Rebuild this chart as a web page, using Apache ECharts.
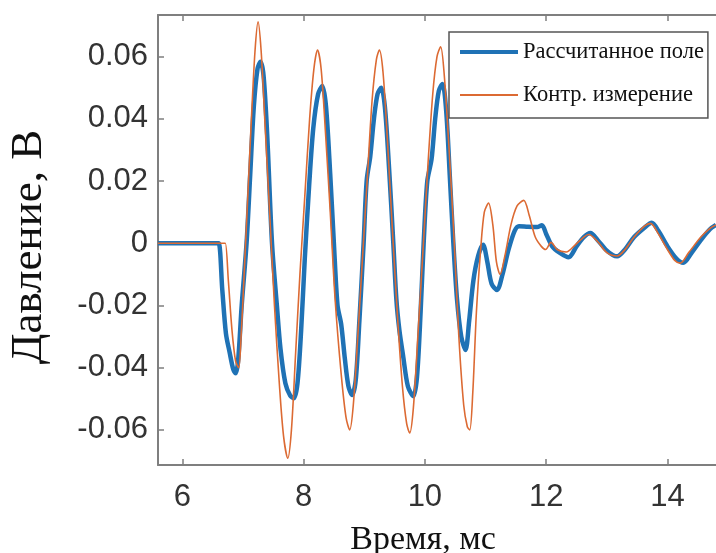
<!DOCTYPE html>
<html>
<head>
<meta charset="utf-8">
<script src="https://cdn.jsdelivr.net/npm/echarts@6/dist/echarts.min.js"></script>
<style>
  html, body { margin: 0; padding: 0; background: #fff; }
  #chart { width: 716px; height: 553px; }
</style>
</head>
<body>
<div id="chart"></div>
<script>
// values: time (ms), pressure (V)
const xTicks = [6, 8, 10, 12, 14];
const yTicks = [-0.06, -0.04, -0.02, 0, 0.02, 0.04, 0.06];

const calcT = [5.6, 6.55, 6.60, 6.66, 6.72, 6.78, 6.84, 6.88, 6.92, 6.98, 7.06, 7.12, 7.18, 7.24, 7.29, 7.34, 7.40, 7.48, 7.56, 7.62, 7.70, 7.78, 7.84, 7.90, 7.96, 8.02, 8.09, 8.16, 8.24, 8.31, 8.37, 8.44, 8.50, 8.56, 8.62, 8.68, 8.74, 8.80, 8.86, 8.92, 8.99, 9.04, 9.10, 9.16, 9.22, 9.28, 9.34, 9.41, 9.48, 9.53, 9.58, 9.64, 9.72, 9.81, 9.87, 9.93, 9.98, 10.04, 10.11, 10.17, 10.23, 10.29, 10.35, 10.41, 10.47, 10.53, 10.60, 10.67, 10.73, 10.80, 10.88, 10.96, 11.03, 11.10, 11.19, 11.28, 11.38, 11.48, 11.55, 11.70, 11.85, 11.93, 12.00, 12.10, 12.22, 12.37, 12.50, 12.62, 12.73, 12.85, 12.98, 13.10, 13.17, 13.30, 13.45, 13.62, 13.74, 13.85, 14.00, 14.15, 14.26, 14.40, 14.55, 14.70, 14.80];
const calcV = [0, 0, 0, -0.015, -0.029, -0.035, -0.0405, -0.0418, -0.038, -0.020, 0, 0.022, 0.044, 0.056, 0.0584, 0.054, 0.035, 0, -0.020, -0.034, -0.045, -0.049, -0.0498, -0.045, -0.028, -0.005, 0.018, 0.037, 0.048, 0.0506, 0.044, 0.022, 0, -0.020, -0.026, -0.037, -0.046, -0.0488, -0.044, -0.025, 0, 0.020, 0.028, 0.040, 0.048, 0.0500, 0.044, 0.024, 0, -0.018, -0.028, -0.036, -0.046, -0.0492, -0.043, -0.022, 0, 0.020, 0.027, 0.040, 0.049, 0.0512, 0.043, 0.022, 0, -0.018, -0.030, -0.0343, -0.025, -0.012, -0.004, -0.0005, -0.006, -0.013, -0.015, -0.010, -0.002, 0.004, 0.0055, 0.0053, 0.0052, 0.0058, 0.003, -0.001, -0.003, -0.0045, -0.001, 0.002, 0.0033, 0.001, -0.002, -0.0038, -0.0042, -0.002, 0.002, 0.005, 0.0066, 0.004, -0.001, -0.005, -0.0063, -0.003, 0.001, 0.0045, 0.0059];

const measT = [5.6, 6.68, 6.71, 6.76, 6.82, 6.88, 6.93, 6.97, 7.02, 7.08, 7.14, 7.20, 7.25, 7.30, 7.36, 7.44, 7.52, 7.60, 7.67, 7.74, 7.80, 7.87, 7.94, 8.02, 8.10, 8.17, 8.23, 8.29, 8.36, 8.44, 8.52, 8.62, 8.70, 8.76, 8.82, 8.90, 8.98, 9.06, 9.13, 9.20, 9.25, 9.31, 9.38, 9.46, 9.55, 9.63, 9.70, 9.75, 9.81, 9.89, 9.97, 10.05, 10.13, 10.20, 10.26, 10.32, 10.40, 10.48, 10.56, 10.64, 10.70, 10.74, 10.79, 10.85, 10.92, 10.98, 11.05, 11.12, 11.18, 11.24, 11.32, 11.42, 11.52, 11.63, 11.72, 11.82, 11.92, 11.99, 12.08, 12.18, 12.33, 12.48, 12.62, 12.70, 12.85, 13.00, 13.17, 13.30, 13.45, 13.62, 13.72, 13.85, 14.00, 14.12, 14.21, 14.35, 14.55, 14.70, 14.80];
const measV = [0, 0, 0, -0.012, -0.028, -0.038, -0.040, -0.030, -0.010, 0.015, 0.040, 0.062, 0.0712, 0.062, 0.040, 0.010, -0.020, -0.045, -0.062, -0.0691, -0.060, -0.035, -0.010, 0.015, 0.040, 0.056, 0.0621, 0.056, 0.036, 0.010, -0.018, -0.042, -0.056, -0.060, -0.052, -0.028, -0.002, 0.024, 0.046, 0.059, 0.0621, 0.055, 0.034, 0.006, -0.024, -0.046, -0.058, -0.061, -0.053, -0.028, -0.002, 0.025, 0.048, 0.060, 0.0632, 0.054, 0.030, 0.002, -0.030, -0.052, -0.059, -0.060, -0.048, -0.022, -0.002, 0.010, 0.0129, 0.006, -0.006, -0.010, -0.004, 0.006, 0.012, 0.0138, 0.009, 0.002, -0.001, -0.002, 0.0003, -0.002, -0.0028, -0.0005, 0.002, 0.0028, 0.0005, -0.003, -0.0041, -0.002, 0.002, 0.0055, 0.0064, 0.003, -0.002, -0.0055, -0.0064, -0.003, 0.002, 0.0048, 0.0059];

const names = ["Рассчитанное поле", "Контр. измерение"];
const colors = ["#1f72b5", "#dc6a33"];

const chart = echarts.init(document.getElementById("chart"));

const axisGray = "#7f7f7f";
const labelFont = { color: "#333", fontFamily: "Liberation Sans, Arial", fontSize: 31 };

const option = {
  animation: false,
  grid: { left: 158, top: 15, right: 0, bottom: 88 },
  legend: {
    orient: "vertical",
    left: 449,
    top: 32,
    padding: [8, 4, 11, 11],
    itemGap: 19,
    itemWidth: 58,
    itemHeight: 4,
    backgroundColor: "#fff",
    borderColor: "#555",
    borderWidth: 1.5,
    textStyle: { color: "#111", fontFamily: "Liberation Serif, Times New Roman", fontSize: 22.5, lineHeight: 24 },
    data: [
      { name: names[0], icon: "path://M0,0H58V4H0Z" },
      { name: names[1], icon: "path://M0,1H58V3H0Z" },
    ],
  },
  xAxis: [
    {
      type: "value",
      min: 5.6,
      max: 14.8,
      axisLine: { show: true, onZero: false, lineStyle: { color: axisGray, width: 2 } },
      axisTick: { show: true, inside: true, length: 6, customValues: xTicks, lineStyle: { color: axisGray, width: 1.5 } },
      axisLabel: { customValues: xTicks, margin: 17, ...labelFont },
      splitLine: { show: false },
    },
    {
      type: "value",
      position: "top",
      min: 5.6,
      max: 14.8,
      axisLine: { show: true, onZero: false, lineStyle: { color: axisGray, width: 2 } },
      axisTick: { show: true, inside: true, length: 6, customValues: xTicks, lineStyle: { color: axisGray, width: 1.5 } },
      axisLabel: { show: false },
      splitLine: { show: false },
    },
  ],
  yAxis: {
    type: "value",
    min: -0.0713,
    max: 0.0734,
    axisLine: { show: true, onZero: false, lineStyle: { color: axisGray, width: 2 } },
    axisTick: { show: true, inside: true, length: 6, customValues: yTicks, lineStyle: { color: axisGray, width: 1.5 } },
    axisLabel: {
      customValues: yTicks,
      margin: 10,
      formatter: (v) => (Math.abs(v) < 1e-9 ? "0" : v.toFixed(2)),
      ...labelFont,
    },
    splitLine: { show: false },
  },
  graphic: [
    {
      type: "text",
      x: 29,
      y: 247,
      rotation: Math.PI / 2,
      style: { text: "Давление, В", font: "45px Liberation Serif", fill: "#111", align: "center", verticalAlign: "middle" },
    },
    {
      type: "text",
      x: 423,
      y: 540,
      style: { text: "Время, мс", font: "34px Liberation Serif", fill: "#111", align: "center", verticalAlign: "middle" },
    },
  ],
  series: [
    {
      name: names[0],
      type: "line",
      data: calcT.map((t, i) => [t, calcV[i]]),
      showSymbol: false,
      smooth: 0.3,
      lineStyle: { color: colors[0], width: 4.5 },
      itemStyle: { color: colors[0] },
    },
    {
      name: names[1],
      type: "line",
      data: measT.map((t, i) => [t, measV[i]]),
      showSymbol: false,
      smooth: 0.3,
      lineStyle: { color: colors[1], width: 1.6 },
      itemStyle: { color: colors[1] },
    },
  ],
};

chart.setOption(option);
</script>
</body>
</html>
